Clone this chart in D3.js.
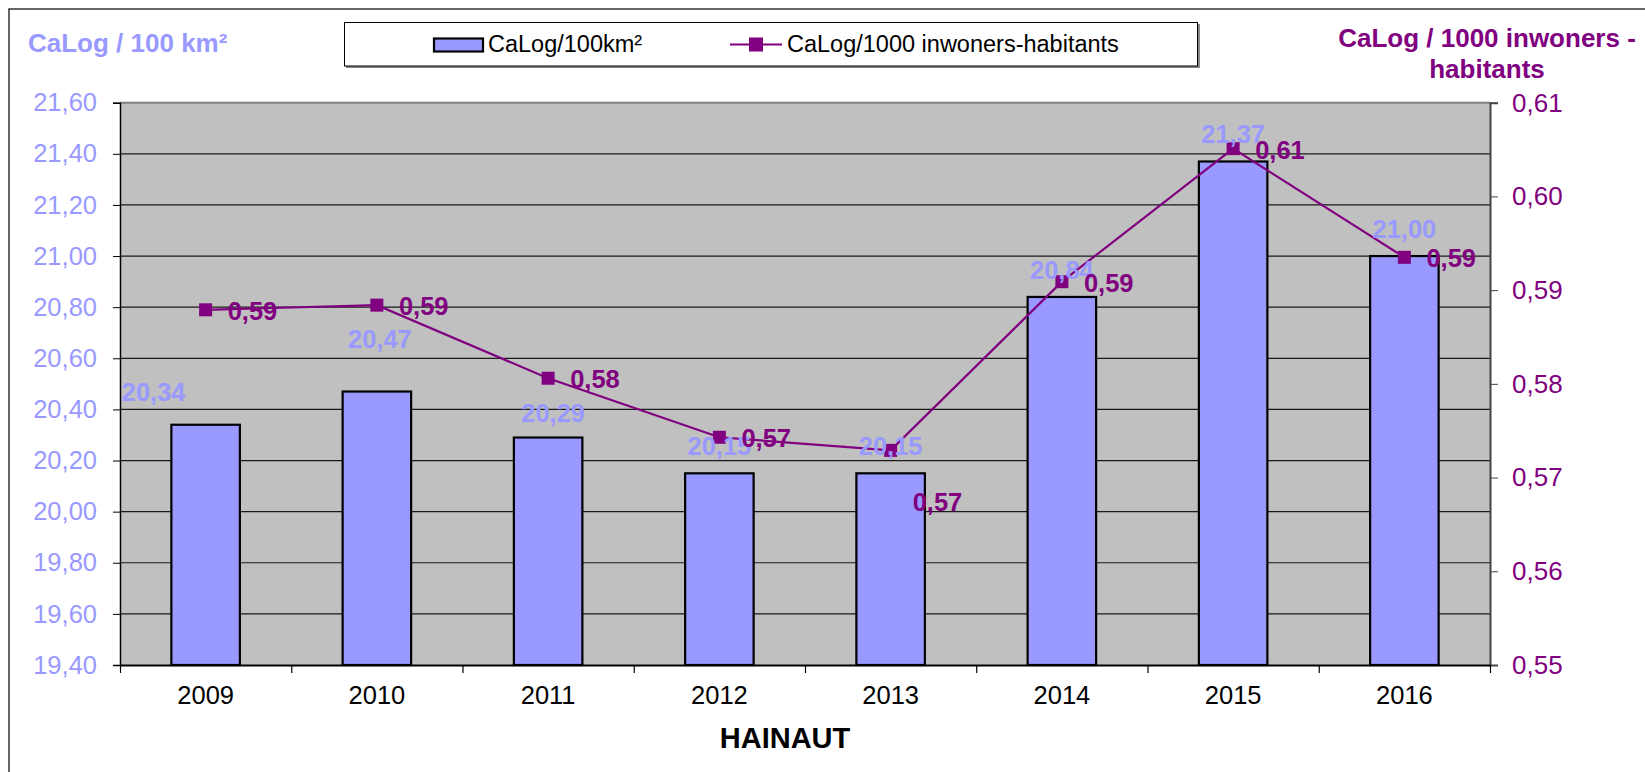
<!DOCTYPE html>
<html>
<head>
<meta charset="utf-8">
<script src="https://cdn.jsdelivr.net/npm/d3@7"></script>
<style>
    body { margin: 0; background: #fff; }
    svg { display: block; font-family: "Liberation Sans", Arial, sans-serif; }
</style>
</head>
<body>
<svg></svg>
<script>
const years = ["2009", "2010", "2011", "2012", "2013", "2014", "2015", "2016"];
const perArea = [20.34, 20.47, 20.29, 20.15, 20.15, 20.84, 21.37, 21.00];
const perInhab = [0.5879, 0.5884, 0.5806, 0.5743, 0.5729, 0.5909, 0.6051, 0.5935];
const leftTicks = [19.4, 19.6, 19.8, 20.0, 20.2, 20.4, 20.6, 20.8, 21.0, 21.2, 21.4, 21.6];
const rightTicks = [0.55, 0.56, 0.57, 0.58, 0.59, 0.60, 0.61];
const titleLeft = "CaLog / 100 km²";
const titleRight = ["CaLog / 1000 inwoners -", "habitants"];
const legendNames = ["CaLog/100km²", "CaLog/1000 inwoners-habitants"];
const xTitle = "HAINAUT";

const width = 1645;
const height = 772;
const plot = { left: 120, right: 1490, top: 102.7, bottom: 665 };
const barColor = "#9999ff";
const lineColor = "#800080";

let svg = d3.select("svg")
    .attr("width", width)
    .attr("height", height);

// comma as decimal separator
const fmt = d => d3.format(".2f")(d).replace(".", ",");

// outer chart frame
svg.append("rect")
    .attr("x", 9).attr("y", 9)
    .attr("width", 2000).attr("height", 2000)
    .attr("fill", "none")
    .attr("stroke", "#333")
    .attr("stroke-width", 1.5);

// scales
let scX = d3.scaleBand()
    .domain(years)
    .range([plot.left, plot.right])
    .paddingInner(0.6)
    .paddingOuter(0.3);
let scY = d3.scaleLinear()
    .domain([19.4, 21.6])
    .range([plot.bottom, plot.top]);
let scY2 = d3.scaleLinear()
    .domain([0.55, 0.61])
    .range([plot.bottom, plot.top]);
let scSlot = d3.scaleLinear()
    .domain([0, years.length])
    .range([plot.left, plot.right]);

// plot background
svg.append("rect")
    .attr("x", plot.left).attr("y", plot.top)
    .attr("width", plot.right - plot.left)
    .attr("height", plot.bottom - plot.top)
    .attr("fill", "#c0c0c0");

// gridlines
svg.append("g")
    .selectAll("line")
    .data(leftTicks.slice(1, -1))
    .enter()
    .append("line")
    .attr("x1", plot.left).attr("x2", plot.right)
    .attr("y1", d => scY(d)).attr("y2", d => scY(d))
    .attr("stroke", "#1a1a1a")
    .attr("stroke-width", 1.2);

// top border of plot
svg.append("line")
    .attr("x1", plot.left).attr("x2", plot.right)
    .attr("y1", plot.top).attr("y2", plot.top)
    .attr("stroke", "#808080")
    .attr("stroke-width", 2);

// bars
svg.append("g")
    .selectAll("rect")
    .data(perArea)
    .enter()
    .append("rect")
    .attr("x", (d, i) => scX(years[i]))
    .attr("y", d => scY(d))
    .attr("width", scX.bandwidth())
    .attr("height", d => plot.bottom - scY(d))
    .attr("fill", barColor)
    .attr("stroke", "#000")
    .attr("stroke-width", 2.2);

// left axis
let axisL = svg.append("g")
    .attr("transform", `translate(${plot.left}, 0)`)
    .call(d3.axisLeft(scY).tickValues(leftTicks).tickFormat(fmt).tickSizeOuter(0).tickSize(7).tickPadding(16));
axisL.select(".domain").attr("stroke", "#000").attr("stroke-width", 1.5);
axisL.selectAll("text")
    .attr("fill", barColor)
    .style("font-size", "25.5px")
    .style("font-family", "Liberation Sans, Arial, sans-serif");

// right axis
let axisR = svg.append("g")
    .attr("transform", `translate(${plot.right}, 0)`)
    .call(d3.axisRight(scY2).tickValues(rightTicks).tickFormat(fmt).tickSizeOuter(0).tickSize(8).tickPadding(14));
axisR.select(".domain").attr("stroke", "#444").attr("stroke-width", 2);
axisR.selectAll("line").attr("stroke", "#444");
axisR.selectAll("text")
    .attr("fill", lineColor)
    .style("font-size", "26px")
    .style("font-family", "Liberation Sans, Arial, sans-serif");

// bottom axis: boundary ticks
let axisB = svg.append("g")
    .attr("transform", `translate(0, ${plot.bottom})`)
    .call(d3.axisBottom(scSlot).ticks(years.length).tickFormat("").tickSize(8).tickSizeOuter(0));
axisB.select(".domain").attr("stroke", "#000").attr("stroke-width", 2);
axisB.selectAll("line").attr("stroke", "#000").attr("stroke-width", 1.2);

// year labels
let axisYears = svg.append("g")
    .attr("transform", `translate(0, ${plot.bottom})`)
    .call(d3.axisBottom(scX).tickSize(0).tickPadding(21));
axisYears.select(".domain").remove();
axisYears.selectAll("text")
    .attr("fill", "#000")
    .style("font-size", "25.5px")
    .style("font-family", "Liberation Sans, Arial, sans-serif");

// line series
let cx = (d, i) => scX(years[i]) + scX.bandwidth() / 2;
let line = d3.line()
    .x(cx)
    .y(d => scY2(d));
svg.append("path")
    .datum(perInhab)
    .attr("d", line)
    .attr("fill", "none")
    .attr("stroke", lineColor)
    .attr("stroke-width", 2.2);

const m = 13;
svg.append("g")
    .selectAll("rect")
    .data(perInhab)
    .enter()
    .append("rect")
    .attr("x", (d, i) => cx(d, i) - m / 2)
    .attr("y", d => scY2(d) - m / 2)
    .attr("width", m).attr("height", m)
    .attr("fill", lineColor);

// bar value labels (some labels were moved by hand in the original)
const barNudge = { 0: [-52, -6], 1: [3, -26], 2: [5, 2] };
svg.append("g")
    .selectAll("text")
    .data(perArea)
    .enter()
    .append("text")
    .attr("x", (d, i) => cx(d, i) + (barNudge[i] ? barNudge[i][0] : 0))
    .attr("y", (d, i) => scY(d) - 18 + (barNudge[i] ? barNudge[i][1] : 0))
    .attr("text-anchor", "middle")
    .attr("fill", barColor)
    .style("font-size", "25.5px")
    .style("font-weight", "bold")
    .text(fmt);

// line value labels
svg.append("g")
    .selectAll("text")
    .data(perInhab)
    .enter()
    .append("text")
    .attr("x", (d, i) => cx(d, i) + 22)
    .attr("y", (d, i) => scY2(d) + (i === 4 ? 61 : 10))
    .attr("fill", lineColor)
    .style("font-size", "25.5px")
    .style("font-weight", "bold")
    .text(fmt);

// axis titles
svg.append("text")
    .attr("x", 28).attr("y", 52)
    .attr("fill", barColor)
    .style("font-size", "26px")
    .style("font-weight", "bold")
    .text(titleLeft);

svg.append("text")
    .attr("text-anchor", "middle")
    .attr("fill", lineColor)
    .style("font-size", "26px")
    .style("font-weight", "bold")
    .selectAll("tspan")
    .data(titleRight)
    .enter()
    .append("tspan")
    .attr("x", 1487)
    .attr("y", (d, i) => 47 + i * 30.5)
    .text(d => d);

svg.append("text")
    .attr("x", 785).attr("y", 748)
    .attr("text-anchor", "middle")
    .attr("fill", "#000")
    .style("font-size", "29px")
    .style("font-weight", "bold")
    .text(xTitle);

// legend
let legend = svg.append("g");
legend.append("rect")
    .attr("x", 346).attr("y", 24)
    .attr("width", 854).attr("height", 44)
    .attr("fill", "#888");
legend.append("rect")
    .attr("x", 344.5).attr("y", 22.5)
    .attr("width", 853).attr("height", 43.5)
    .attr("fill", "#fff")
    .attr("stroke", "#000")
    .attr("stroke-width", 1);

legend.append("rect")
    .attr("x", 434).attr("y", 38.5)
    .attr("width", 49).attr("height", 13)
    .attr("fill", barColor)
    .attr("stroke", "#000")
    .attr("stroke-width", 2.2);
legend.append("text")
    .attr("x", 488).attr("y", 52)
    .style("font-size", "23.5px")
    .text(legendNames[0]);

legend.append("line")
    .attr("x1", 730).attr("x2", 782)
    .attr("y1", 44.5).attr("y2", 44.5)
    .attr("stroke", lineColor)
    .attr("stroke-width", 2.2);
legend.append("rect")
    .attr("x", 756 - 7).attr("y", 44.5 - 7)
    .attr("width", 14).attr("height", 14)
    .attr("fill", lineColor);
legend.append("text")
    .attr("x", 787).attr("y", 52)
    .style("font-size", "23.5px")
    .text(legendNames[1]);
</script>
</body>
</html>
